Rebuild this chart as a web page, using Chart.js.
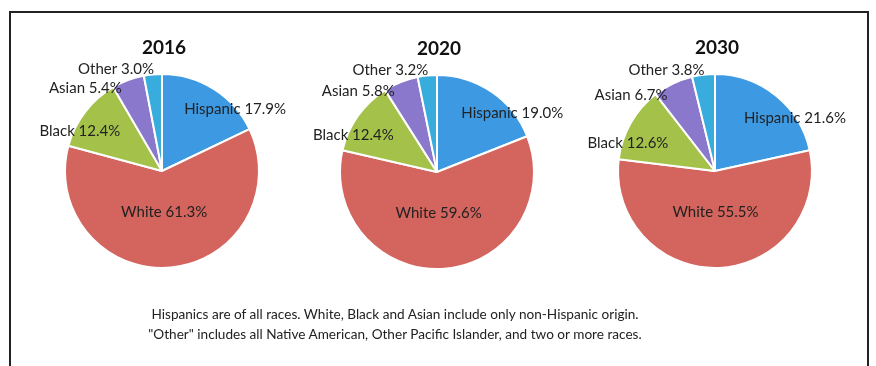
<!DOCTYPE html>
<html>
<head>
<meta charset="utf-8">
<script src="https://cdn.jsdelivr.net/npm/chart.js@4.4.0/dist/chart.umd.min.js"></script>
<style>
  body { margin: 0; background: #fff; width: 876px; height: 366px; overflow: hidden; position: relative; font-family: Lato, "Open Sans", sans-serif; }
  .frame { position: absolute; left: 9px; top: 11px; width: 856px; height: 400px; border: 2px solid #222; }
  canvas { position: absolute; }
  .note { position: absolute; left: 0; width: 790px; top: 304px; text-align: center; font-size: 13.6px; line-height: 20px; color: #222; }
</style>
</head>
<body>
<div class="frame"></div>
<canvas id="pie2016" width="276" height="270" style="left:24px;top:36px"></canvas>
<canvas id="pie2020" width="276" height="270" style="left:299px;top:37px"></canvas>
<canvas id="pie2030" width="276" height="270" style="left:577px;top:36px"></canvas>
<div class="note">Hispanics are of all races. White, Black and Asian include only non-Hispanic origin.<br>"Other" includes all Native American, Other Pacific Islander, and two or more races.</div>
<script>
const categories = ['Hispanic', 'White', 'Black', 'Asian', 'Other'];
const years = ['2016', '2020', '2030'];
const share2016 = [17.9, 61.3, 12.4, 5.4, 3.0];
const share2020 = [19.0, 59.6, 12.4, 5.8, 3.2];
const share2030 = [21.6, 55.5, 12.6, 6.7, 3.8];

const colors = ['#3d9ae2', '#d3655e', '#a4c24a', '#8a78cc', '#38acdc'];

// where each label sits: fraction of the radius, and turn from slice middle (degrees)
const labelPlace = [[1.0, 16.7], [0.4, 2], [0.95, -10.5], [1.18, -21.5], [1.17, -18.5]];

const pieLabels = {
  id: 'pieLabels',
  afterDatasetsDraw(chart) {
    const ctx = chart.ctx;
    const arcs = chart.getDatasetMeta(0).data;
    const values = chart.data.datasets[0].data;
    ctx.save();
    ctx.textAlign = 'center';
    ctx.textBaseline = 'middle';
    ctx.fillStyle = '#222';
    ctx.font = '15px Lato';
    arcs.forEach((arc, i) => {
      const mid = (arc.startAngle + arc.endAngle) / 2 + labelPlace[i][1] * Math.PI / 180;
      const r = arc.outerRadius * labelPlace[i][0];
      ctx.fillText(chart.data.labels[i] + ' ' + values[i].toFixed(1) + '%', arc.x + Math.cos(mid) * r, arc.y + Math.sin(mid) * r + 2);
    });
    const a = arcs[0];
    ctx.font = 'bold 19px Lato';
    ctx.fillStyle = '#111';
    ctx.fillText(chart.options.plugins.yearTitle, a.x + 2, a.y - a.outerRadius - 26);
    ctx.restore();
  }
};

function drawPie(id, year, values) {
  new Chart(document.getElementById(id), {
    type: 'pie',
    data: {
      labels: categories,
      datasets: [{
        data: values,
        backgroundColor: colors,
        borderColor: '#fff',
        borderWidth: 2
      }]
    },
    options: {
      responsive: false,
      animation: false,
      layout: { padding: { left: 40, right: 40, top: 37, bottom: 37 } },
      plugins: {
        legend: { display: false },
        tooltip: { enabled: false },
        yearTitle: year
      }
    },
    plugins: [pieLabels]
  });
}

drawPie('pie2016', years[0], share2016);
drawPie('pie2020', years[1], share2020);
drawPie('pie2030', years[2], share2030);
</script>
</body>
</html>
